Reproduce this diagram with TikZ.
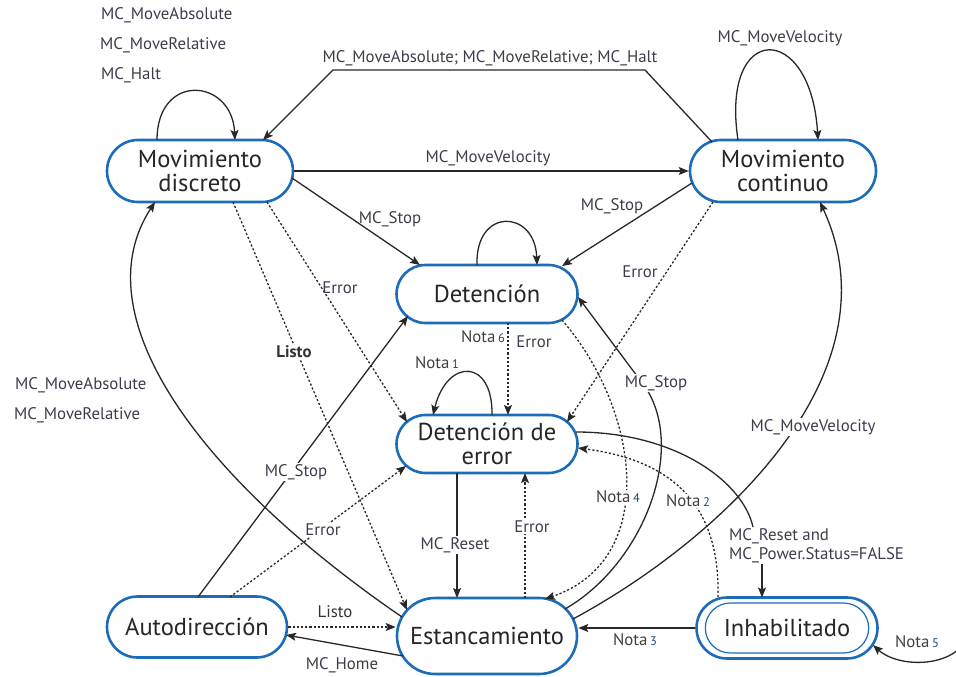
\documentclass[tikz,border=0pt]{standalone}
\usepackage{fontspec}
\setmainfont{PT Sans}
\usetikzlibrary{arrows.meta,shapes.misc,calc}
\definecolor{nblue}{RGB}{28,108,186}
\definecolor{lcol}{RGB}{40,40,40}
\definecolor{tcol}{RGB}{62,60,74}
\tikzset{
  state/.style={rounded rectangle, draw=nblue, line width=2.6pt, fill=white,
    align=center, font=\fontsize{24.5}{24}\selectfont, text=black!85,
    minimum height=62pt, minimum width=186pt, inner sep=0pt},
  conn/.style={draw=lcol, line width=1.3pt, -{Stealth[length=10pt,width=8pt,inset=2pt]}},
  dconn/.style={conn, dash pattern=on 2.2pt off 2pt},
  lbl/.style={font=\fontsize{16.8}{19}\selectfont, text=tcol, inner sep=1pt},
  wlbl/.style={lbl, fill=white},
  nlbl/.style={lbl, text=black!75},
}
\newcommand{\nota}[1]{Nota\,{\fontsize{12.5}{13}\selectfont\color{nblue!70!black}#1}}
\begin{document}
\begin{tikzpicture}[x=1pt,y=-1pt]
\useasboundingbox (0,0) rectangle (956,677);

% states
\node[state] (md) at (200,171) {Movimiento\\discreto};
\node[state] (mc) at (783,171) {Movimiento\\continuo};
\node[state, minimum width=181pt, minimum height=58pt] (det) at (487,294) {Detención};
\node[state, minimum width=181pt, minimum height=58pt] (de) at (487,444) {Detención de\\error};
\node[state, minimum width=180pt, minimum height=76pt] (est) at (487,636) {Estancamiento};
\node[state, minimum width=180pt, minimum height=61pt] (ad) at (197,627) {Autodirección};
\node[state, minimum width=181pt, minimum height=61pt] (inh) at (787,628) {};
\node[rounded rectangle, draw=nblue, line width=1.2pt, minimum width=170pt, minimum height=50pt,
      font=\fontsize{24.5}{24}\selectfont, text=black!85] (inhin) at (inh) {Inhabilitado};

% label for reset arrow (needed for anchoring)
\node[lbl, anchor=north west, align=left] (rst) at (728,527) {MC\_Reset and\\MC\_Power.Status=FALSE};
\coordinate (inhtop) at ($(inh)+(-25,-30.5)$);
\coordinate (n5) at (958,650);

% connectors
\draw[conn] ($(md)+(-43,-31)$) .. controls +(0,-68) and +(-3,-62) .. ($(md)+(35,-31)$);
\draw[conn] ($(mc)+(-71,-29)$) -- ++(-67,-72) -- ++(-312,0) -- ($(md)+(63,-31)$);
\draw[conn] (md.east) -- (mc.west);
\draw[conn] ($(mc)+(-45,-31)$) .. controls +(-18,-119) and +(-7,-119) .. ($(mc)+(35,-31)$);
\draw[conn] ($(md)+(92,7)$) -- ($(det)+(-67,-29)$);
\draw[conn] ($(mc)+(-91,12)$) -- ($(det)+(75,-28)$);
\draw[conn] ($(det)+(-10,-29)$) .. controls +(-2,-58) and +(-2,-56) .. ($(det)+(50,-29)$);
\draw[dconn] ($(md)+(67,31)$) -- ($(de)+(-80,-22)$);
\draw[dconn] ($(md)+(33,31)$) -- ($(est)+(-80,-26)$);
\draw[dconn] ($(mc)+(-70,31)$) -- ($(de)+(80,-22)$);
\draw[dconn] ($(det)+(21,29)$) -- ($(de)+(21,-29)$);
\draw[conn] ($(de)+(5,-29)$) .. controls +(1,-57) and +(14,-57) .. ($(de)+(-54,-29)$);
\draw[conn] ($(de)+(-30,29)$) -- ($(est)+(-30,-38)$);
\draw[dconn] ($(est)+(38,-38)$) -- ($(de)+(38,29)$);
\draw[dconn] ($(det)+(75,26)$) .. controls +(78,90) and +(115,-39) .. ($(est)+(58,-37)$);
\draw[conn] ($(est)+(78,-27)$) .. controls +(82,-47) and +(50,60) .. (640,380) -- ($(det)+(91,3)$);
\draw[conn] ($(est)+(86,-17)$) .. controls +(145,-78) and +(80,173) .. ($(mc)+(37,31)$);
\draw[draw=lcol, line width=1.3pt] ($(de)+(89,-12)$) .. controls +(100,0) and +(-10,-45) .. ([xshift=25pt]rst.north west);
\draw[conn] (rst.south -| inhtop) -- (inhtop);
\draw[dconn] ($(inh)+(-69,-31)$) .. controls +(2,-87) and +(100,13) .. ($(de)+(91,4)$);
\draw[conn] (inh.west) -- (inh.west -| est.east);
\draw[conn] (n5) .. controls +(-22,18) and +(22,20) .. ($(inh)+(86,17)$);
\draw[conn] ($(est)+(-85,-19)$) .. controls +(-200,-137) and +(-75,115) .. ($(md)+(-45,31)$);
\draw[conn] ($(ad)+(1,-30)$) -- ($(det)+(-79,22)$);
\draw[dconn] ($(ad)+(33,-30)$) -- ($(de)+(-81,22)$);
\draw[dconn] (ad.east) -- (ad.east -| est.west);
\draw[conn] ($(est)+(-84,20)$) -- ($(ad)+(89,8)$);

% labels
\node[lbl, anchor=west] (l1) at (100,15) {MC\_MoveAbsolute};
\node[lbl, anchor=west] (l2) at (99,45) {MC\_MoveRelative};
\node[lbl, anchor=west] (l3) at (100,75) {MC\_Halt};
\node[lbl] (l4) at (490,58) {MC\_MoveAbsolute; MC\_MoveRelative; MC\_Halt};
\node[lbl] (l5) at (488,158) {MC\_MoveVelocity};
\node[lbl] (l6) at (780,38) {MC\_MoveVelocity};
\node[lbl] (l7) at (390,219) {MC\_Stop};
\node[lbl] (l8) at (612,206) {MC\_Stop};
\node[lbl] (l9) at (340,288) {Error};
\node[wlbl, text=black!80] (l10) at (294,352) {\bfseries Listo};
\node[lbl] (l11) at (640,272) {Error};
\node[nlbl] (l12) at (483,337) {\nota{6}};
\node[lbl] (l13) at (534,342) {Error};
\node[nlbl] (l14) at (437,363) {\nota{1}};
\node[lbl, anchor=west] (l15) at (14,385) {MC\_MoveAbsolute};
\node[lbl, anchor=west] (l16) at (13,415) {MC\_MoveRelative};
\node[wlbl] (l17) at (656,383) {MC\_Stop};
\node[wlbl] (l18) at (813,427) {MC\_MoveVelocity};
\node[wlbl] (l19) at (455,545) {MC\_Reset};
\node[wlbl] (l20) at (532,527) {Error};
\node[wlbl, text=black!75] (l21) at (618,497) {\nota{4}};
\node[wlbl, text=black!75] (l22) at (688,501) {\nota{2}};
\node[wlbl] (l24) at (296,472) {MC\_Stop};
\node[wlbl] (l25) at (323,530) {Error};
\node[lbl, text=black!80] (l26) at (335,612) {Listo};
\node[lbl] (l27) at (342,665) {MC\_Home};
\node[nlbl] (l28) at (635,640) {\nota{3}};
\node[nlbl] (l29) at (917,642) {\nota{5}};
\end{tikzpicture}
\end{document}
